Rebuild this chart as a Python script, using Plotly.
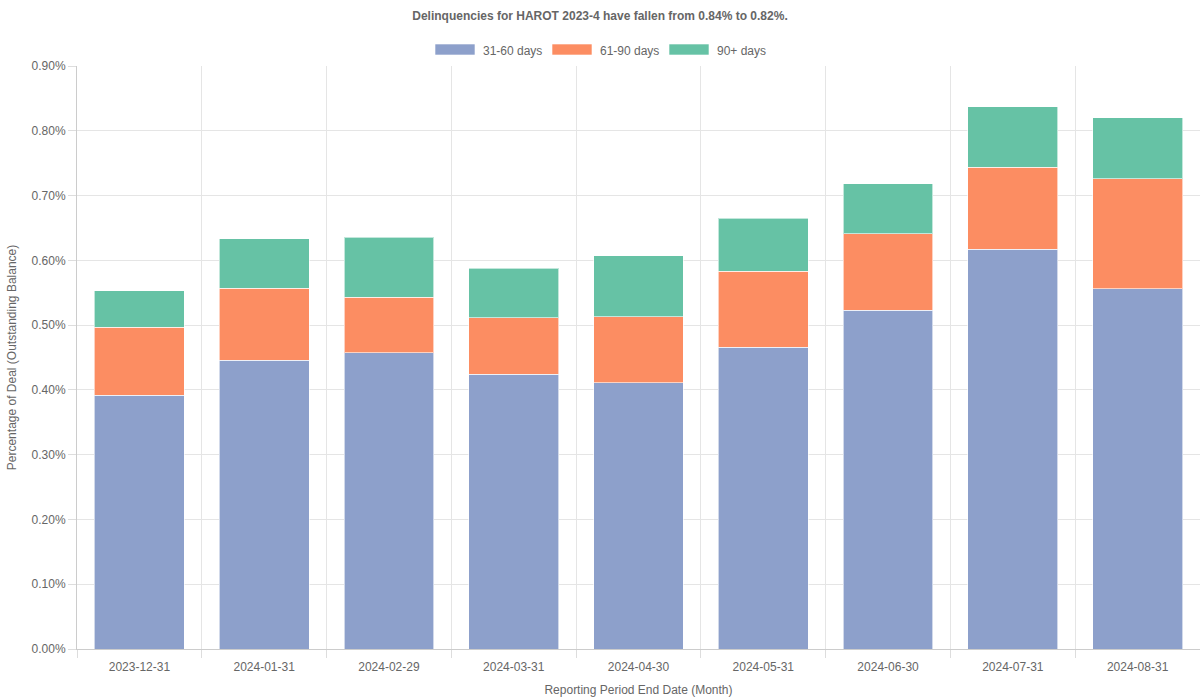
import plotly.graph_objects as go

categories = ["2023-12-31", "2024-01-31", "2024-02-29", "2024-03-31", "2024-04-30",
              "2024-05-31", "2024-06-30", "2024-07-31", "2024-08-31"]
d31_60 = [0.392, 0.446, 0.457, 0.424, 0.411, 0.466, 0.523, 0.617, 0.556]
d61_90 = [0.105, 0.111, 0.086, 0.087, 0.102, 0.117, 0.118, 0.127, 0.170]
d90p = [0.056, 0.076, 0.093, 0.077, 0.094, 0.082, 0.077, 0.093, 0.094]

series_names = ["31-60 days", "61-90 days", "90+ days"]
colors = ["#8da0cb", "#fc8d62", "#66c2a5"]

W, H = 1200, 700
ML, MR, MT, MB = 77, 0, 66, 51
PW, PH = W - ML - MR, H - MT - MB

fig = go.Figure()
for name, vals, col in zip(series_names, [d31_60, d61_90, d90p], colors):
    fig.add_trace(go.Bar(
        x=categories, y=vals, name=name, showlegend=False,
        marker=dict(color=col, line=dict(color="rgba(255,255,255,0.6)", width=1)),
        hovertemplate="%{x}<br>" + name + ": %{y:.2f}%<extra></extra>",
    ))

font_fam = "Liberation Sans, Arial, sans-serif"

# custom legend (wide swatches)
def px_x(px):
    return (px - ML) / PW

def px_y(py):
    return (H - MB - py) / PH

legend_x = [435, 552, 669]
for lx, name, col in zip(legend_x, series_names, colors):
    fig.add_shape(type="rect", xref="paper", yref="paper",
                  x0=px_x(lx), x1=px_x(lx + 40), y0=px_y(55), y1=px_y(44),
                  fillcolor=col, line=dict(color="rgba(255,255,255,0.6)", width=1))
    fig.add_annotation(xref="paper", yref="paper", x=px_x(lx + 46), y=px_y(50.5),
                       text=name, showarrow=False, xanchor="left", yanchor="middle",
                       font=dict(size=12, color="#666", family=font_fam))

fig.update_layout(
    barmode="stack",
    bargap=0.28,
    width=W, height=H,
    margin=dict(l=ML, r=MR, t=MT, b=MB),
    paper_bgcolor="white", plot_bgcolor="white",
    font=dict(family=font_fam, size=12, color="#666"),
    title=dict(text="<b>Delinquencies for HAROT 2023-4 have fallen from 0.84% to 0.82%.</b>",
               x=0.5, xanchor="center", y=0.977, yanchor="middle",
               font=dict(size=12, color="#666", family=font_fam)),
    showlegend=False,
    xaxis=dict(
        type="category",
        title=dict(text="Reporting Period End Date (Month)", font=dict(size=12, color="#666"), standoff=12),
        tickson="boundaries", ticks="outside", ticklen=8, tickcolor="#ddd",
        ticklabelstandoff=7,
        showgrid=True, gridcolor="#e5e5e5", gridwidth=1,
        showline=True, linecolor="#ccc", linewidth=1,
        tickfont=dict(size=12, color="#666"),
    ),
    yaxis=dict(
        title=dict(text="Percentage of Deal (Outstanding Balance)", font=dict(size=12, color="#666"), standoff=12),
        range=[0, 0.9], dtick=0.1, tickformat=".2f", ticksuffix="%",
        ticks="outside", ticklen=8, tickcolor="#ddd",
        showgrid=True, gridcolor="#e5e5e5", gridwidth=1,
        showline=True, linecolor="#ccc", linewidth=1,
        zeroline=False,
        tickfont=dict(size=12, color="#666"),
    ),
)

fig.write_html("out.html")
